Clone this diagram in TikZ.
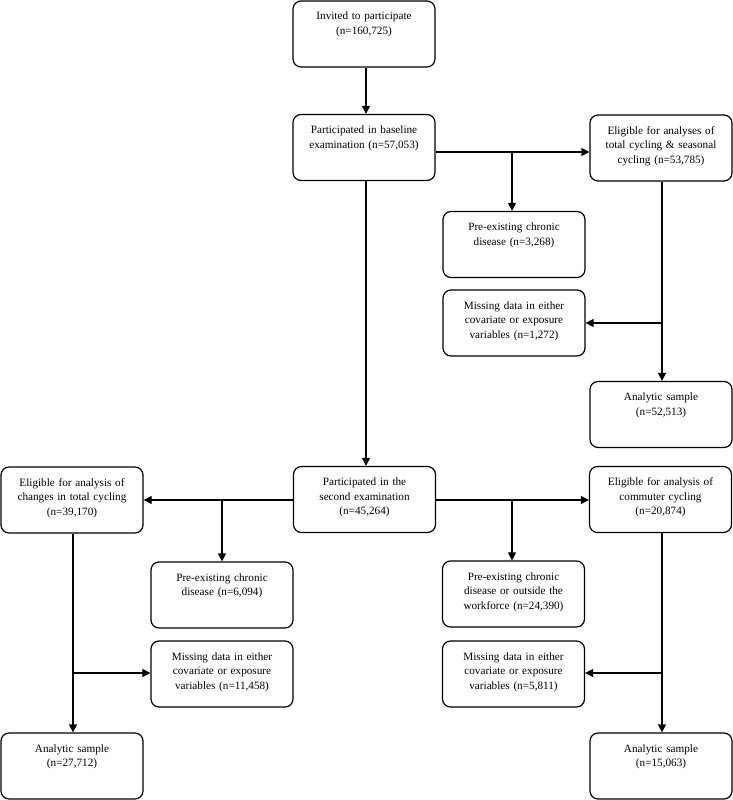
\documentclass[tikz,border=0pt]{standalone}
\usepackage{fontspec}
\setmainfont{Liberation Serif}
\usetikzlibrary{arrows.meta}
\begin{document}
\begin{tikzpicture}[x=1pt,y=-1pt,
  flowbox/.style={draw, line width=1.2pt, rounded corners=8pt, text width=136pt,
    align=center, inner xsep=3pt, inner ysep=3pt, text height=16pt, text depth=44pt,
    font=\fontsize{11.2}{14.5}\selectfont},
  arr/.style={line width=1.2pt, -{Triangle[length=8pt,width=8pt]}}]
\useasboundingbox (0,0) rectangle (733,800);
% boxes
\node[flowbox] (inv) at (364,34) {Invited to participate\\(n=160,725)};
\node[flowbox] (base) at (364,147.5) {Participated in baseline\\examination (n=57,053)};
\node[flowbox] (elig1) at (661,148) {Eligible for analyses of\\total cycling \& seasonal\\cycling (n=53,785)};
\node[flowbox] (pre1) at (514,244.5) {Pre-existing chronic\\disease (n=3,268)};
\node[flowbox] (miss1) at (514,323) {Missing data in either\\covariate or exposure\\variables (n=1,272)};
\node[flowbox] (ana1) at (661,414.5) {Analytic sample\\(n=52,513)};
\node[flowbox] (second) at (364.5,499.5) {Participated in the\\second examination\\(n=45,264)};
\node[flowbox] (eligch) at (72,500) {Eligible for analysis of\\changes in total cycling\\(n=39,170)};
\node[flowbox] (pre2) at (222,595) {Pre-existing chronic\\disease (n=6,094)};
\node[flowbox] (miss2) at (222,674) {Missing data in either\\covariate or exposure\\variables (n=11,458)};
\node[flowbox] (ana2) at (72,766) {Analytic sample\\(n=27,712)};
\node[flowbox] (eligco) at (660.5,499.5) {Eligible for analysis of\\commuter cycling\\(n=20,874)};
\node[flowbox] (pre3) at (513.5,594) {Pre-existing chronic\\disease or outside the\\workforce (n=24,390)};
\node[flowbox] (miss3) at (513.5,674) {Missing data in either\\covariate or exposure\\variables (n=5,811)};
\node[flowbox] (ana3) at (661,766) {Analytic sample\\(n=15,063)};
% junctions
\coordinate (j1) at (512,152);
\coordinate (j2) at (662,323);
\coordinate (j3) at (222,500);
\coordinate (j4) at (512,500);
\coordinate (j5) at (73,673);
\coordinate (j6) at (662,673);
\coordinate (v1) at (366,0);
\coordinate (v2) at (662,0);
\coordinate (v3) at (73,0);
% connectors
\draw[arr] (inv.south -| v1) -- (base.north -| v1);
\draw[arr] (base.east |- j1) -- (elig1.west |- j1);
\draw[arr] (j1) -- (pre1.north -| j1);
\draw[arr] (elig1.south -| v2) -- (ana1.north -| v2);
\draw[arr] (j2) -- (miss1.east |- j2);
\draw[arr] (base.south -| v1) -- (second.north -| v1);
\draw[arr] (second.west |- j3) -- (eligch.east |- j3);
\draw[arr] (j3) -- (pre2.north -| j3);
\draw[arr] (second.east |- j4) -- (eligco.west |- j4);
\draw[arr] (j4) -- (pre3.north -| j4);
\draw[arr] (eligch.south -| v3) -- (ana2.north -| v3);
\draw[arr] (j5) -- (miss2.west |- j5);
\draw[arr] (eligco.south -| v2) -- (ana3.north -| v2);
\draw[arr] (j6) -- (miss3.east |- j6);
\end{tikzpicture}
\end{document}
